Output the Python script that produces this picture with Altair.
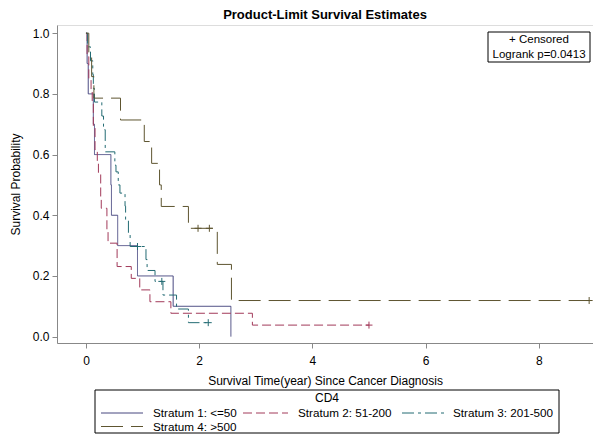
import altair as alt
import pandas as pd

# ---------------- data ----------------
strata = ["Stratum 1: <=50", "Stratum 2: 51-200", "Stratum 3: 201-500", "Stratum 4: >500"]
colors = ["#46467F", "#A23A5A", "#236B73", "#5E5530"]
dashes = [[1, 0], [9, 4], [12, 4, 3, 4], [22, 8]]

s1_time = [0, 0.02, 0.04, 0.13, 0.15, 0.44, 0.45, 0.56, 0.91, 1.54, 2.56]
s1_surv = [1.0, 0.9, 0.8, 0.7, 0.6, 0.5, 0.4, 0.3, 0.2, 0.1, 0.0]

s2_time = [0, 0.02, 0.05, 0.09, 0.11, 0.13, 0.16, 0.20, 0.22, 0.26, 0.27, 0.37, 0.39,
           0.55, 0.80, 0.95, 1.13, 1.50, 2.94, 5.00]
s2_surv = [1.0, 0.923, 0.846, 0.808, 0.769, 0.692, 0.615, 0.577, 0.538, 0.462, 0.423, 0.346, 0.308,
           0.231, 0.192, 0.154, 0.115, 0.077, 0.038, 0.038]

s3_time = [0, 0.03, 0.08, 0.12, 0.13, 0.15, 0.28, 0.31, 0.34, 0.51, 0.53, 0.57, 0.60, 0.69, 0.70,
           0.75, 0.78, 1.06, 1.08, 1.22, 1.36, 1.60, 1.81, 2.16]
s3_surv = [1.0, 0.955, 0.909, 0.864, 0.818, 0.773, 0.727, 0.682, 0.609, 0.565, 0.543, 0.5, 0.473, 0.43, 0.385,
           0.342, 0.297, 0.254, 0.218, 0.182, 0.137, 0.091, 0.046, 0.046]

s4_time = [0, 0.05, 0.10, 0.14, 0.61, 1.03, 1.16, 1.30, 1.33, 1.81, 2.32, 2.57, 8.89]
s4_surv = [1.0, 0.929, 0.857, 0.786, 0.714, 0.643, 0.571, 0.5, 0.429, 0.357, 0.238, 0.119, 0.119]

cens2_time = [5.00]
cens2_surv = [0.038]
cens3_time = [0.91, 1.34, 2.16]
cens3_surv = [0.297, 0.182, 0.046]
cens4_time = [1.98, 2.18, 8.89]
cens4_surv = [0.357, 0.357, 0.119]

x_ticks = [0, 2, 4, 6, 8]
y_ticks = [0.0, 0.2, 0.4, 0.6, 0.8, 1.0]

# ---------------- tables ----------------
rows = []
for name, ts, ss in zip(strata, [s1_time, s2_time, s3_time, s4_time], [s1_surv, s2_surv, s3_surv, s4_surv]):
    for i, (t, s) in enumerate(zip(ts, ss)):
        rows.append({"time": t, "surv": s, "stratum": name, "seq": i})
curves = pd.DataFrame(rows)

crow = []
for name, ts, ss in zip(strata[1:], [cens2_time, cens3_time, cens4_time], [cens2_surv, cens3_surv, cens4_surv]):
    for t, s in zip(ts, ss):
        crow.append({"time": t, "surv": s, "stratum": name})
cens = pd.DataFrame(crow)

FONT = "Liberation Sans"
W, H = 536, 318

x_scale = alt.Scale(domain=[-0.512, 8.958], nice=False, zero=False)
y_scale = alt.Scale(domain=[-0.021, 1.027], nice=False, zero=False)
color_scale = alt.Scale(domain=strata, range=colors)
dash_scale = alt.Scale(domain=strata, range=dashes)

x_axis = alt.Axis(title="Survival Time(year) Since Cancer Diagnosis", values=x_ticks, format="d",
                  grid=False, tickSize=5, labelPadding=7, titlePadding=9,
                  titleFontWeight="normal", labelFontSize=12, titleFontSize=12)
y_axis = alt.Axis(title="Survival Probability", values=y_ticks, format=".1f",
                  grid=False, tickSize=5, labelPadding=3, titlePadding=10,
                  titleFontWeight="normal", labelFontSize=12, titleFontSize=12)

lines = alt.Chart(curves).mark_line(interpolate="step-after", strokeWidth=1, clip=True).encode(
    x=alt.X("time:Q", scale=x_scale, axis=x_axis),
    y=alt.Y("surv:Q", scale=y_scale, axis=y_axis),
    color=alt.Color("stratum:N", scale=color_scale, legend=None),
    strokeDash=alt.StrokeDash("stratum:N", scale=dash_scale, legend=None),
    order=alt.Order("seq:Q"),
)

marks = alt.Chart(cens).mark_point(shape="M-1,0H1M0,-1V1", size=49, filled=False, strokeWidth=1, opacity=1).encode(
    x=alt.X("time:Q", scale=x_scale),
    y=alt.Y("surv:Q", scale=y_scale),
    color=alt.Color("stratum:N", scale=color_scale, legend=None),
)

one = pd.DataFrame({"k": [0]})

def box(x, x2, y, y2):
    return alt.Chart(one).mark_rect(fill="white", stroke="black", strokeWidth=1).encode(
        x=alt.value(x), x2=alt.value(x2), y=alt.value(y), y2=alt.value(y2))

def label(txt, x, y, size=12, align="center"):
    return alt.Chart(one).mark_text(font=FONT, fontSize=size, color="black", align=align,
                                    baseline="middle").encode(
        x=alt.value(x), y=alt.value(y), text=alt.value(txt))

# inset box (censor key + logrank test)
inset = [box(431, 533, 7, 37), label("+ Censored", 482, 15, 11.5), label("Logrank p=0.0413", 482, 30, 11.5)]

# legend (drawn as a guide below the plot)
leg_layers = [box(38, 502, 365, 408), label("CD4", 270, 373, 12)]
slots = [(44, 86, 96, 388), (186, 231, 241, 388), (345, 390, 396, 388), (44, 86, 96, 401.5)]
for name, col, dash, (sx, sx2, lx, ly) in zip(strata, colors, dashes, slots):
    leg_layers.append(alt.Chart(one).mark_rule(color=col, strokeDash=dash, strokeWidth=1).encode(
        x=alt.value(sx), x2=alt.value(sx2), y=alt.value(ly)))
    leg_layers.append(label(name, lx, ly, 11.7, "left"))

chart = alt.layer(lines, marks, *inset, *leg_layers).properties(
    width=W, height=H,
    title=alt.TitleParams("Product-Limit Survival Estimates", font=FONT, fontSize=13, fontWeight="bold",
                          anchor="middle", offset=3, color="black"),
    autosize=alt.AutoSizeParams(type="none"),
    padding={"left": 49, "top": 17, "right": 0, "bottom": 91},
).configure_view(stroke="black", strokeWidth=1).configure_axis(
    labelFont=FONT, labelColor="black", titleFont=FONT,
    titleColor="black", domainColor="black", tickColor="black",
).configure(background="white")

chart.save("out.html", embed_options={"renderer": "svg", "actions": False})
